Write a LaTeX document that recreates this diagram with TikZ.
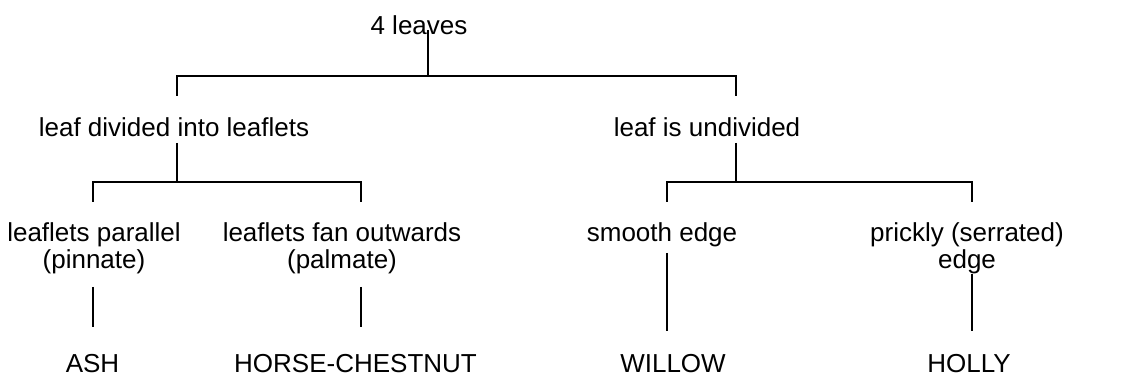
\documentclass[tikz,border=0pt]{standalone}
\usepackage{fontspec}
\setmainfont{Liberation Sans}
\begin{document}
\begin{tikzpicture}[x=0.5pt,y=-0.5pt,line width=0.8pt,
    every node/.style={inner sep=0pt,anchor=base,align=center,
      font=\fontsize{13}{13.5}\selectfont}]
      \useasboundingbox (0,0) rectangle (1143,383);
      \draw
        (419,35) node (0){4 leaves}
        (174,137) node (1){leaf divided into leaflets}
        (707,137) node (2){leaf is undivided}
        (94,269) node (3){leaflets parallel\\(pinnate)}
        (342,269) node (4){leaflets fan outwards\\(palmate)}
        (662,242) node (5){smooth edge}
        (967,269) node (6){prickly (serrated)\\edge}
        (92.5,373) node (7){ASH}
        (355.5,373) node (8){HORSE-CHESTNUT}
        (673,373) node (9){WILLOW}
        (969,373) node (10){HOLLY};
      % stub ends and junctions
      \coordinate (0s) at (428,30);  \coordinate (0j) at (428,76);
      \coordinate (1t) at (177,96);  \coordinate (1s) at (177,143); \coordinate (1j) at (177,182);
      \coordinate (2t) at (736,96);  \coordinate (2s) at (736,143); \coordinate (2j) at (736,182);
      \coordinate (3t) at (93,202);  \coordinate (3s) at (93,287);
      \coordinate (4t) at (361,202); \coordinate (4s) at (361,287);
      \coordinate (5t) at (667,202); \coordinate (5s) at (667,253);
      \coordinate (6t) at (972,202); \coordinate (6s) at (972,274);
      \coordinate (7t) at (93,327);  \coordinate (8t) at (361,327);
      \coordinate (9t) at (667,331); \coordinate (10t) at (972,331);
      \begin{scope}[-]
        \draw (0s) to (0j);
        \draw (1t) |- (0j) -| (2t);
        \draw (1s) to (1j);
        \draw (3t) |- (1j) -| (4t);
        \draw (2s) to (2j);
        \draw (5t) |- (2j) -| (6t);
        \draw (3s) to (7t);
        \draw (4s) to (8t);
        \draw (5s) to (9t);
        \draw (6s) to (10t);
      \end{scope}
    \end{tikzpicture}
\end{document}
